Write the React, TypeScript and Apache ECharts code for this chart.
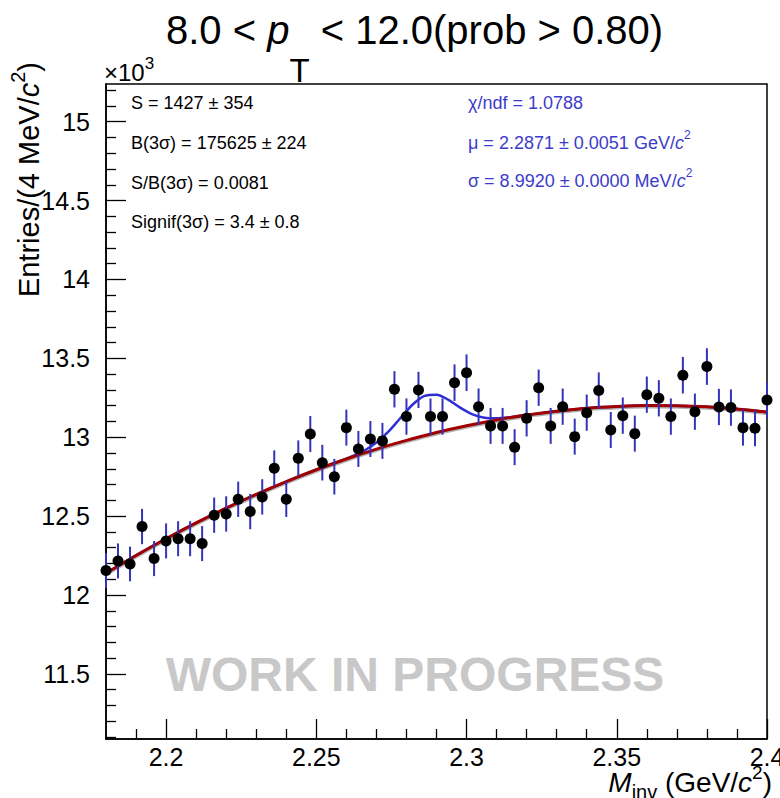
import React, { useEffect, useRef } from "react";
import * as echarts from "echarts";

const FONT = '"Liberation Sans", Arial, Helvetica, sans-serif';

// Invariant-mass histogram: 4 MeV bins starting at 2.18 GeV/c^2
const BIN_START = 2.18;
const BIN_WIDTH = 0.004;

const entries = [
  12155, 12216, 12197, 12434, 12231, 12343, 12357, 12357, 12326, 12506,
  12514, 12607, 12529, 12622, 12804, 12607, 12867, 13021, 12839, 12750,
  13061, 12926, 12989, 12977, 13304, 13131, 13300, 13131, 13131, 13346,
  13409, 13194, 13072, 13072, 12937, 13120, 13314, 13072, 13194, 13004,
  13156, 13296, 13046, 13137, 13023, 13270, 13247, 13131, 13393, 13162,
  13448, 13192, 13188, 13061, 13057, 13236,
];

const entryErrors = [
  110, 111, 110, 112, 111, 111, 111, 111, 111, 112,
  112, 112, 112, 112, 113, 112, 113, 114, 113, 113,
  114, 114, 114, 114, 115, 115, 115, 115, 115, 116,
  116, 115, 114, 114, 114, 115, 115, 114, 115, 114,
  115, 115, 114, 115, 114, 115, 115, 115, 116, 115,
  116, 115, 115, 114, 114, 115,
];

// Background fit (x10^3 entries)
const bgMass = [
  2.18, 2.19, 2.2, 2.21, 2.22, 2.23, 2.24, 2.25, 2.26, 2.27, 2.28, 2.29,
  2.3, 2.31, 2.32, 2.33, 2.34, 2.35, 2.36, 2.37, 2.38, 2.39, 2.4,
];
const bgFit = [
  12.138, 12.251, 12.357, 12.457, 12.551, 12.638, 12.719, 12.794, 12.862,
  12.925, 12.98, 13.03, 13.073, 13.11, 13.141, 13.165, 13.184, 13.195,
  13.201, 13.2, 13.193, 13.179, 13.159,
];
const bgRef = [
  12.13, 12.243, 12.349, 12.449, 12.543, 12.63, 12.711, 12.786, 12.854,
  12.917, 12.972, 13.022, 13.065, 13.102, 13.133, 13.157, 13.176, 13.187,
  13.193, 13.192, 13.185, 13.171, 13.151,
];

// Signal + background fit
const totalMass = [
  2.18, 2.19, 2.2, 2.21, 2.22, 2.23, 2.24, 2.25, 2.254, 2.258, 2.262, 2.266,
  2.27, 2.274, 2.278, 2.282, 2.286, 2.29, 2.294, 2.298, 2.302, 2.306, 2.31,
  2.314, 2.318, 2.322, 2.33, 2.34, 2.35, 2.36, 2.37, 2.38, 2.39, 2.4,
];
const totalFit = [
  12.138, 12.251, 12.357, 12.457, 12.551, 12.638, 12.719, 12.794, 12.822,
  12.85, 12.88, 12.916, 12.967, 13.036, 13.122, 13.206, 13.262, 13.27,
  13.237, 13.186, 13.145, 13.124, 13.12, 13.126, 13.136, 13.146, 13.165,
  13.184, 13.195, 13.201, 13.2, 13.193, 13.179, 13.159,
];

const xMajor = [2.2, 2.25, 2.3, 2.35, 2.4];
const yMajor = [11.5, 12, 12.5, 13, 13.5, 14, 14.5, 15];
const X_MIN = 2.18;
const X_MAX = 2.4;
const Y_MIN = 11.0875;
const Y_MAX = 15.239;

const statsLeft = [
  "S = 1427 \u00b1 354",
  "B(3\u03c3) = 175625 \u00b1 224",
  "S/B(3\u03c3) = 0.0081",
  "Signif(3\u03c3) = 3.4 \u00b1 0.8",
];
const fitChi = "\u03c7/ndf = 1.0788";
const fitMu = "\u03bc = 2.2871 \u00b1 0.0051 GeV/";
const fitSigma = "\u03c3 = 8.9920 \u00b1 0.0000 MeV/";

type Piece = { t: string; s: number; it?: boolean; b?: boolean; dy?: number };

function fontOf(p: Piece) {
  return `${p.it ? "italic" : "normal"} ${p.b ? "bold" : "normal"} ${p.s}px ${FONT}`;
}

function run(
  ctx: CanvasRenderingContext2D,
  pieces: Piece[],
  x0: number,
  yc: number,
  anchor: "left" | "right",
  fill: string
) {
  const widths = pieces.map((p) => {
    ctx.font = fontOf(p);
    return ctx.measureText(p.t).width;
  });
  const total = widths.reduce((a, b) => a + b, 0);
  let x = anchor === "left" ? x0 : x0 - total;
  return pieces.map((p, i) => {
    const el = {
      type: "text",
      x,
      y: yc + (p.dy || 0),
      silent: true,
      style: {
        text: p.t,
        fontSize: p.s,
        fontFamily: FONT,
        fontStyle: p.it ? "italic" : "normal",
        fontWeight: p.b ? "bold" : "normal",
        fill,
        align: "left",
        verticalAlign: "middle",
        textAlign: "left",
        textVerticalAlign: "middle",
      },
    };
    x += widths[i];
    return el;
  });
}

function minorTicks(from: number, to: number, step: number, majors: number[]) {
  const out: number[] = [];
  const n = Math.round((to - from) / step);
  for (let i = 0; i <= n; i++) {
    const v = Math.round((from + i * step) * 1000) / 1000;
    if (!majors.some((m) => Math.abs(m - v) < 1e-6)) out.push(v);
  }
  return out;
}

export default function App() {
  const ref = useRef<HTMLDivElement>(null);

  useEffect(() => {
    if (!ref.current) return;
    const chart = echarts.init(ref.current, undefined, { renderer: "svg" });
    const ctx = document.createElement("canvas").getContext("2d")!;

    const black = "#000000";
    const blueText = "#3c3cc8";

    const graphics: any[] = [];
    // Title
    graphics.push(
      ...run(
        ctx,
        [
          { t: "8.0 < ", s: 40 },
          { t: "p", s: 40, it: true },
          { t: "T", s: 33, dy: 40 },
          { t: " < 12.0(prob > 0.80)", s: 40 },
        ],
        166,
        30,
        "left",
        black
      )
    );
    // Axis exponent
    graphics.push(
      ...run(
        ctx,
        [
          { t: "\u00d710", s: 24 },
          { t: "3", s: 17, dy: -9 },
        ],
        104,
        72,
        "left",
        black
      )
    );
    // Y-axis title (rotated)
    graphics.push({
      type: "group",
      x: 29,
      y: 62,
      rotation: Math.PI / 2,
      children: run(
        ctx,
        [
          { t: "Entries/(4 MeV/", s: 29 },
          { t: "c", s: 29, it: true },
          { t: "2", s: 20, dy: -11 },
          { t: ")", s: 29 },
        ],
        0,
        0,
        "right",
        black
      ),
    });
    // X-axis title
    graphics.push(
      ...run(
        ctx,
        [
          { t: "M", s: 28, it: true },
          { t: "inv", s: 20, dy: 10 },
          { t: " (GeV/", s: 28 },
          { t: "c", s: 28, it: true },
          { t: "2", s: 19, dy: -10 },
          { t: ")", s: 28 },
        ],
        772,
        782,
        "right",
        black
      )
    );
    // Yield statistics
    const rowsY = [103, 143, 183, 222];
    statsLeft.forEach((txt, i) => {
      graphics.push(...run(ctx, [{ t: txt, s: 18 }], 131, rowsY[i], "left", black));
    });
    graphics.push(...run(ctx, [{ t: fitChi, s: 18 }], 468, 103, "left", blueText));
    graphics.push(
      ...run(
        ctx,
        [
          { t: fitMu, s: 18 },
          { t: "c", s: 18, it: true },
          { t: "2", s: 12, dy: -8 },
        ],
        468,
        143,
        "left",
        blueText
      )
    );
    graphics.push(
      ...run(
        ctx,
        [
          { t: fitSigma, s: 18 },
          { t: "c", s: 18, it: true },
          { t: "2", s: 12, dy: -8 },
        ],
        468,
        181,
        "left",
        blueText
      )
    );
    // Watermark
    graphics.push({
      type: "text",
      x: 415,
      y: 674,
      silent: true,
      style: {
        text: "WORK IN PROGRESS",
        fontSize: 48,
        fontWeight: "bold",
        fontFamily: FONT,
        fill: "#c8c8c8",
        align: "center",
        verticalAlign: "middle",
        textAlign: "center",
        textVerticalAlign: "middle",
      },
    });

    const xMinor = minorTicks(2.19, 2.39, 0.01, xMajor);
    const yMinor = minorTicks(11.1, 15.2, 0.1, yMajor);

    const points = entries.map((n, i) => [
      BIN_START + i * BIN_WIDTH,
      n / 1000,
      entryErrors[i] / 1000,
    ]);

    const tickLine = { color: black, width: 1.3 };

    chart.setOption({
      animation: false,
      grid: {
        left: 106,
        right: 13,
        top: 84,
        bottom: 59,
        show: true,
        borderColor: black,
        borderWidth: 1.5,
        containLabel: false,
        outerBoundsMode: "none",
      },
      xAxis: [
        {
          type: "value",
          min: X_MIN,
          max: X_MAX,
          position: "bottom",
          axisLine: { show: true, lineStyle: { color: black, width: 1.5 } },
          axisTick: { show: true, inside: true, length: 20, customValues: xMajor, lineStyle: tickLine },
          axisLabel: {
            customValues: xMajor,
            fontSize: 25,
            fontFamily: FONT,
            color: black,
            margin: 5,
          },
          splitLine: { show: false },
        },
        {
          type: "value",
          min: X_MIN,
          max: X_MAX,
          position: "bottom",
          axisLine: { show: false },
          axisTick: { show: true, inside: true, length: 10, customValues: xMinor, lineStyle: tickLine },
          axisLabel: { show: false },
          splitLine: { show: false },
        },
      ],
      yAxis: [
        {
          type: "value",
          min: Y_MIN,
          max: Y_MAX,
          position: "left",
          axisLine: { show: true, lineStyle: { color: black, width: 1.5 } },
          axisTick: { show: true, inside: true, length: 20, customValues: yMajor, lineStyle: tickLine },
          axisLabel: {
            customValues: yMajor,
            fontSize: 25,
            fontFamily: FONT,
            color: black,
            margin: 16,
          },
          splitLine: { show: false },
        },
        {
          type: "value",
          min: Y_MIN,
          max: Y_MAX,
          position: "left",
          axisLine: { show: false },
          axisTick: { show: true, inside: true, length: 10, customValues: yMinor, lineStyle: tickLine },
          axisLabel: { show: false },
          splitLine: { show: false },
        },
      ],
      graphic: graphics,
      series: [
        {
          type: "line",
          data: bgMass.map((x, i) => [x, bgRef[i]]),
          smooth: 0.3,
          showSymbol: false,
          silent: true,
          lineStyle: { color: "#b4b4b4", width: 3.5 },
          z: 2,
        },
        {
          type: "line",
          data: totalMass.map((x, i) => [x, totalFit[i]]),
          smooth: 0.3,
          showSymbol: false,
          silent: true,
          lineStyle: { color: "#2f2fd6", width: 2.5 },
          z: 3,
        },
        {
          type: "line",
          data: bgMass.map((x, i) => [x, bgFit[i]]),
          smooth: 0.3,
          showSymbol: false,
          silent: true,
          lineStyle: { color: "#a00000", width: 3 },
          z: 4,
        },
        {
          type: "custom",
          data: points,
          encode: { x: 0, y: 1 },
          z: 5,
          silent: true,
          renderItem: (params: any, api: any) => {
            const x = api.value(0);
            const y = api.value(1);
            const e = api.value(2);
            const lo = api.coord([x, y - e]);
            const hi = api.coord([x, y + e]);
            return {
              type: "line",
              shape: { x1: lo[0], y1: lo[1], x2: hi[0], y2: hi[1] },
              style: { stroke: "#3434b8", lineWidth: 2 },
            };
          },
        },
        {
          type: "scatter",
          data: points.map((p) => [p[0], p[1]]),
          symbol: "circle",
          symbolSize: 11,
          itemStyle: { color: black, opacity: 1 },
          clip: false,
          silent: true,
          z: 6,
        },
      ],
    });

    return () => chart.dispose();
  }, []);

  return (
    <div
      ref={ref}
      style={{ position: "absolute", left: 0, top: 0, width: 780, height: 798, background: "#fff" }}
    />
  );
}
